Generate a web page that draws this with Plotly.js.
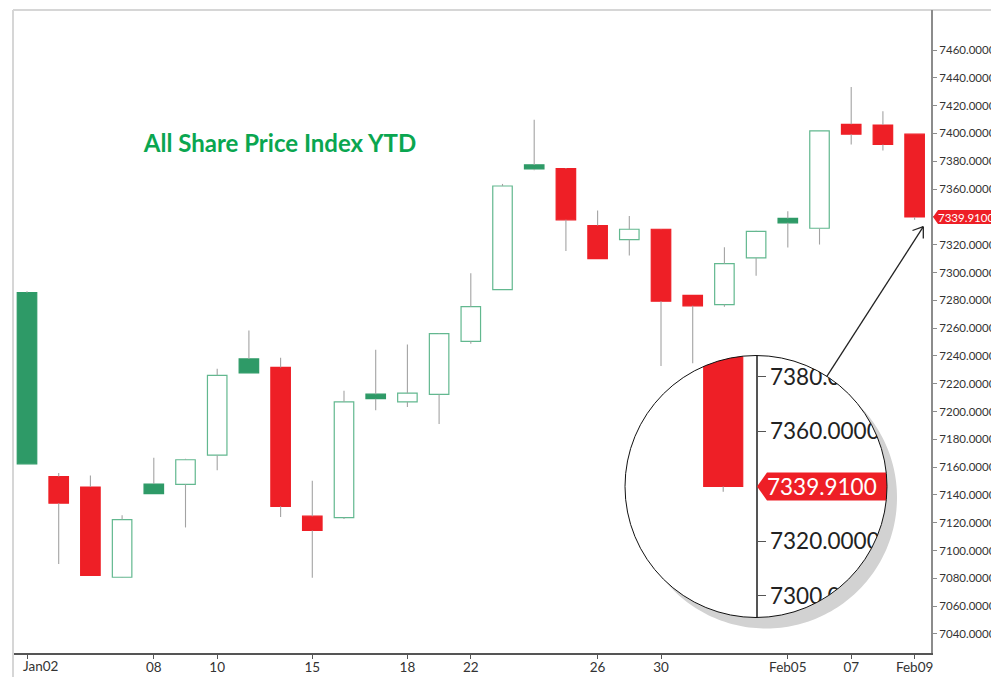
<!DOCTYPE html>
<html>
<head>
<meta charset="utf-8">
<script src="https://cdn.plot.ly/plotly-3.0.1.min.js"></script>
<style>html,body{margin:0;padding:0;background:#fff;}#chart{width:991px;height:677px;}</style>
</head>
<body>
<div id="chart"></div>
<script>
// ---------------- DATA ----------------
const categories = ['Jan02','Jan03','Jan04','Jan05','Jan08','Jan09','Jan10','Jan11','Jan12','Jan15',
  'Jan16','Jan17','Jan18','Jan19','Jan22','Jan23','Jan24','Jan25','Jan26','Jan29',
  'Jan30','Jan31','Feb01','Feb02','Feb05','Feb06','Feb07','Feb08','Feb09'];
const openVals  = [7285.5,7153.2,7145.7,7080.8,7147.8,7147.6,7168.6,7237.8,7231.7,7124.7,
  7123.7,7212.5,7206.9,7212.3,7250.5,7287.7,7377.4,7374.7,7333.8,7323.7,
  7331.1,7283.5,7276.9,7310.5,7338.9,7331.8,7406.6,7406.1,7399.5];
const highVals  = [7286.5,7155.8,7154.0,7125.4,7166.7,7166.0,7230.7,7258.3,7238.7,7150.2,
  7214.9,7244.4,7248.2,7256.5,7299.5,7363.7,7409.8,7375.2,7344.6,7340.7,
  7331.3,7283.5,7318.1,7330.0,7344.0,7402.0,7433.5,7415.9,7399.5];
const lowVals   = [7162.4,7090.4,7082.2,7080.5,7141.0,7116.6,7157.7,7227.8,7124.2,7080.5,
  7122.6,7200.9,7203.3,7191.0,7248.7,7287.7,7373.5,7315.4,7310.0,7312.2,
  7232.8,7234.7,7275.4,7297.7,7317.9,7320.1,7392.1,7387.7,7338.0];
const closeVals = [7162.4,7134.1,7082.2,7122.3,7141.0,7165.3,7226.0,7227.8,7131.8,7114.5,
  7206.9,7209.2,7213.2,7256.0,7275.4,7362.2,7374.5,7337.9,7310.0,7331.1,
  7279.3,7276.0,7306.3,7329.6,7335.7,7401.9,7399.5,7392.1,7339.91];
const xTickCats   = ['Jan02','Jan08','Jan10','Jan15','Jan18','Jan22','Jan26','Jan30','Feb05','Feb07','Feb09'];
const xTickLabels = ['Jan02','08','10','15','18','22','26','30','Feb05','07','Feb09'];
const yTickVals = [7040,7060,7080,7100,7120,7140,7160,7180,7200,7220,7240,7260,7280,7300,7320,7340,7360,7380,7400,7420,7440,7460];
const chartTitle = 'All Share Price Index YTD';

// ---------------- STYLE ----------------
const GREEN = '#2e9a67', HOLLOW = '#62b88f', RED = '#ee1f26', WICK = '#a3a3a3';
const n = categories.length;
const bodyBase = [], bodyLen = [], fillCol = [], lineCol = [];
for (let i = 0; i < n; i++) {
  const o = openVals[i], c = closeVals[i];
  const up = c > o;
  const green = i === 0 ? true : c > closeVals[i - 1];
  bodyBase.push(Math.min(o, c));
  bodyLen.push(Math.abs(c - o));
  fillCol.push(up ? '#ffffff' : (green ? GREEN : RED));
  lineCol.push(up ? (green ? HOLLOW : RED) : (green ? GREEN : RED));
}
const wx = [], wy = [];
for (let i = 0; i < n; i++) {
  const top = Math.max(openVals[i], closeVals[i]), bot = Math.min(openVals[i], closeVals[i]);
  wx.push(categories[i], categories[i], null, categories[i], categories[i], null);
  wy.push(highVals[i], top, null, bot, lowVals[i], null);
}
function bodyTrace(xa, ya, lw) {
  return {type: 'bar', x: categories, base: bodyBase, y: bodyLen, width: 0.615,
    xaxis: xa, yaxis: ya, hoverinfo: 'skip',
    marker: {color: fillCol, line: {color: lineCol, width: lw}}};
}
function wickTrace(xa, ya, w) {
  return {type: 'scatter', mode: 'lines', x: wx, y: wy, xaxis: xa, yaxis: ya,
    line: {color: WICK, width: w}, connectgaps: false, hoverinfo: 'skip'};
}

// plot-area pixel helpers (for decorations only)
const L = 14, T = 10, W = 917, H = 643;
const PX = p => (p - L) / W, PY = p => (T + H - p) / H;

// magnifier geometry
const C1 = {x: 756, y: 486.5}, C2 = {x: 766, y: 497.5}, R = 131;
const zoomPxPerUnit = 2.7375;
const lastClose = closeVals[n - 1];
const inTop = 355, inBot = 618, inLeft = 697, inRight = 756;
const halfSpan = (inBot - inTop) / 2 / zoomPxPerUnit;

function circlePts(c, r, a0, a1, k) {
  const pts = [];
  for (let j = 0; j <= k; j++) {
    const a = a0 + (a1 - a0) * j / k;
    pts.push([c.x + r * Math.cos(a), c.y + r * Math.sin(a)]);
  }
  return pts;
}
function pathFrom(pts) {
  return pts.map((p, j) => (j ? 'L' : 'M') + PX(p[0]).toFixed(5) + ',' + PY(p[1]).toFixed(5)).join(' ') + ' Z';
}
// mask: box minus circle
const box = [[inLeft, 348], [925, 348], [925, 626], [inLeft, 626]];
const maskPath = pathFrom(box) + ' ' + pathFrom(circlePts(C1, R, 0, 2 * Math.PI, 180));
// shadow crescent
const dx = C2.x - C1.x, dy = C2.y - C1.y, d = Math.hypot(dx, dy), a = d / 2;
const tu = Math.atan2(dy, dx);
const D2 = Math.acos(-a / R), D1 = Math.acos(a / R);
const crescent = circlePts(C2, R, tu - D2, tu + D2, 120).concat(circlePts(C1, R, tu + D1, tu - D1, 120));
const crescentPath = pathFrom(crescent);

const shapes = [
  // frame lines
  {type: 'line', xref: 'paper', yref: 'paper', x0: PX(13), x1: PX(991), y0: PY(10), y1: PY(10), line: {color: '#d6d6d6', width: 2}, layer: 'below'},
  {type: 'line', xref: 'paper', yref: 'paper', x0: PX(13), x1: PX(13), y0: PY(10), y1: PY(677), line: {color: '#d6d6d6', width: 2}, layer: 'below'},
  // inset price label background
  {type: 'path', xref: 'paper', yref: 'y2', xsizemode: 'pixel', ysizemode: 'pixel', xanchor: PX(inRight), yanchor: lastClose,
   path: 'M1,0 L11,14 L165,14 L165,-14 L11,-14 Z', fillcolor: RED, line: {width: 0}, layer: 'above'},
  // mask outside magnifier circle
  {type: 'path', xref: 'paper', yref: 'paper', path: maskPath, fillrule: 'evenodd', fillcolor: '#ffffff', line: {width: 0}, layer: 'above'},
  // shadow
  {type: 'path', xref: 'paper', yref: 'paper', path: crescentPath, fillcolor: '#d2d2d2', line: {width: 0}, layer: 'above'},
  // circle outline
  {type: 'circle', xref: 'paper', yref: 'paper', x0: PX(C1.x - R), x1: PX(C1.x + R), y0: PY(C1.y + R), y1: PY(C1.y - R), line: {color: '#111', width: 1}, layer: 'above'},
  // arrow
  {type: 'line', xref: 'paper', yref: 'paper', x0: PX(826.7), y0: PY(376.7), x1: PX(923.3), y1: PY(226.7), line: {color: '#222', width: 1.3}, layer: 'above'},
  {type: 'line', xref: 'paper', yref: 'paper', x0: PX(923.3), y0: PY(226.7), x1: PX(912.5), y1: PY(230.5), line: {color: '#222', width: 1.3}, layer: 'above'},
  {type: 'line', xref: 'paper', yref: 'paper', x0: PX(923.3), y0: PY(226.7), x1: PX(923.3), y1: PY(238.5), line: {color: '#222', width: 1.3}, layer: 'above'},
  // main price label background
  {type: 'path', xref: 'paper', yref: 'y', xsizemode: 'pixel', ysizemode: 'pixel', xanchor: 1, yanchor: lastClose,
   path: 'M2,0 L7,7 L90,7 L90,-7 L7,-7 Z', fillcolor: RED, line: {width: 0}, layer: 'above'}
];

const annotations = [
  {xref: 'x', yref: 'paper', x: xTickCats[0], y: 0, text: xTickLabels[0], showarrow: false,
   xanchor: 'left', yanchor: 'top', xshift: -6, yshift: -3, font: {size: 13.5, color: '#333'}},
  {xref: 'paper', yref: 'y', x: 1, y: lastClose, text: lastClose.toFixed(4), showarrow: false,
   xanchor: 'left', yanchor: 'middle', xshift: 5, font: {size: 11.5, color: '#ffffff'}},
  {xref: 'paper', yref: 'y2', x: PX(inRight), y: lastClose, text: lastClose.toFixed(4), showarrow: false,
   xanchor: 'left', yanchor: 'middle', xshift: 9, font: {size: 22.5, color: '#ffffff'}}
];

const data = [
  wickTrace('x', 'y', 1.1),
  bodyTrace('x', 'y', 1.2),
  wickTrace('x2', 'y2', 1.2),
  bodyTrace('x2', 'y2', 1.2)
];

const layout = {
  width: 991, height: 677,
  margin: {l: L, r: 991 - L - W, t: T, b: 677 - T - H, pad: 0},
  paper_bgcolor: '#ffffff', plot_bgcolor: 'rgba(0,0,0,0)',
  showlegend: false, hovermode: false, barmode: 'overlay',
  font: {family: 'Lato, "Open Sans", sans-serif', color: '#333'},
  title: {text: '<b>' + chartTitle + '</b>', font: {family: 'Lato, "Open Sans", sans-serif', size: 24, color: '#0aa650'},
    xref: 'container', yref: 'container', x: 280 / 991, y: 1 - 144 / 677, xanchor: 'center', yanchor: 'middle'},
  xaxis: {type: 'category', range: [-0.41, 28.517], tickmode: 'array', tickvals: xTickCats,
    ticktext: xTickLabels.map((t, i) => i === 0 ? '' : t), ticks: 'outside', ticklen: 4, tickcolor: '#555',
    ticklabelstandoff: -3,
    showline: true, linecolor: '#555', linewidth: 1.5, showgrid: false, zeroline: false,
    tickfont: {size: 13.5, color: '#333'}, fixedrange: true},
  yaxis: {side: 'right', range: [7026.3, 7488.8], tickmode: 'array', tickvals: yTickVals, tickformat: '.4f',
    ticks: 'outside', ticklen: 4, tickcolor: '#8c8c8c', showline: true, linecolor: '#8c8c8c', linewidth: 2,
    showgrid: false, zeroline: false, tickfont: {size: 11.5, color: '#333'}, fixedrange: true},
  xaxis2: {type: 'category', anchor: 'y2', domain: [PX(inLeft), PX(inRight)],
    range: [28.517 - (inRight - inLeft) / (2 * 31.7), 28.517], visible: false, fixedrange: true},
  yaxis2: {anchor: 'x2', side: 'right', domain: [PY(inBot), PY(inTop)],
    range: [lastClose - halfSpan, lastClose + halfSpan], tickmode: 'array', tickvals: yTickVals, tickformat: '.4f',
    ticks: 'outside', ticklen: 8, tickcolor: '#555', showline: true, linecolor: '#555', linewidth: 1.5,
    showgrid: false, zeroline: false, tickfont: {size: 22.5, color: '#222'}, fixedrange: true},
  shapes: shapes,
  annotations: annotations
};

Plotly.newPlot('chart', data, layout, {displayModeBar: false, staticPlot: true});
</script>
</body>
</html>
